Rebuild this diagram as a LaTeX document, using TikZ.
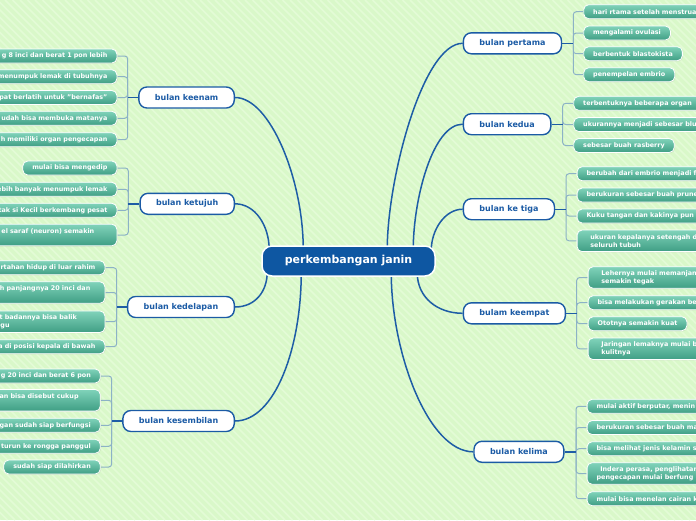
\documentclass[tikz,border=0pt]{standalone}
\usepackage{fontspec}
\setmainfont{DejaVu Sans}
\usetikzlibrary{shadows,calc}
\definecolor{bgc}{HTML}{D9F8C9}
\definecolor{stripec}{HTML}{E3FBD6}
\definecolor{ctrblue}{HTML}{0E57A2}
\definecolor{brblue}{HTML}{1B5BA5}
\definecolor{mainln}{HTML}{1E5DA6}
\definecolor{spinec}{HTML}{8CB2C6}
\definecolor{leaft}{HTML}{80D3BA}
\definecolor{leafb}{HTML}{3F9E84}
\pgfdeclarelayer{bg}
\pgfsetlayers{bg,main}
\newcommand\leaffnt{\fontsize{6.4}{8}\selectfont\bfseries}
\tikzset{
  ctrbox/.style={draw=white, line width=1.5pt, fill=ctrblue, rounded corners=10pt,
    text=white, font=\fontsize{11}{13}\selectfont\bfseries, minimum width=173pt,
    minimum height=30pt, inner xsep=8pt},
  brbox/.style={draw=brblue, line width=1.4pt, fill=white, rounded corners=8pt,
    text=brblue, font=\fontsize{8}{10}\selectfont\bfseries, inner xsep=16pt,
    inner ysep=0pt, minimum height=21pt},
  leaf/.style={draw=white, line width=0.8pt, rounded corners=5pt, top color=leaft,
    bottom color=leafb, text=white, font=\leaffnt, inner xsep=9.5pt, inner ysep=3.6pt,
    minimum height=14pt,
    drop shadow={opacity=0.2, shadow xshift=0.7pt, shadow yshift=-0.7pt}},
  leafR/.style={leaf, anchor=west},
  leafRc/.style={leaf, anchor=west, text width=150pt, align=left},
  leafL/.style={leaf, anchor=east},
  leafLc/.style={leaf, anchor=east, text width=180pt, align=right},
  two/.style={minimum height=21.6pt},
  mainline/.style={draw=mainln, line width=1.5pt},
  brline/.style={draw=mainln, line width=1.4pt},
  spine/.style={draw=spinec, line width=1pt, rounded corners=3pt},
}
\begin{document}
\begin{tikzpicture}[x=1pt,y=-1pt]
\useasboundingbox (0,0) rectangle (696,520);
\begin{pgfonlayer}{bg}
\begin{scope}
\clip (0,0) rectangle (696,520);
\fill[bgc] (0,0) rectangle (696,520);
\foreach \i in {-520,-512.5,...,700} \draw[stripec, line width=1.6pt] (\i,0) -- ++(520,520);
\end{scope}
\end{pgfonlayer}
\clip (0,0) rectangle (696,520);

% centre
\node[ctrbox] (ctr) at (348.5,261) {perkembangan janin};

% branches
\node[brbox, anchor=west] (b1) at (462.7,43.3) {bulan pertama};
\node[brbox, anchor=west] (b2) at (462.7,124.2) {bulan kedua};
\node[brbox, anchor=west] (b3) at (462.7,209.2) {bulan ke tiga};
\node[brbox, anchor=west] (b4) at (462.7,313.3) {bulam keempat};
\node[brbox, anchor=west] (b5) at (473.3,451.8) {bulan kelima};
\node[brbox, anchor=east] (b6) at (235,97.5) {bulan keenam};
\node[brbox, anchor=east] (b7) at (235,203.8) {bulan ketujuh};
\node[brbox, anchor=east] (b8) at (235,307) {bulan kedelapan};
\node[brbox, anchor=east] (b9) at (235,421) {bulan kesembilan};

% leaves: bulan pertama
\node[leafRc] (p1) at (583.3,11.7) {hari rtama setelah menstrua};
\node[leafR] (p2) at (583.3,33) {mengalami ovulasi};
\node[leafR] (p3) at (583.3,53.7) {berbentuk blastokista};
\node[leafR] (p4) at (583.3,74.7) {penempelan embrio};
% bulan kedua
\node[leafR] (k1) at (573.3,103.3) {terbentuknya beberapa organ};
\node[leafRc] (k2) at (573.3,124.5) {ukurannya menjadi sebesar blu};
\node[leafR] (k3) at (573.3,145.5) {sebesar buah rasberry};
% bulan ke tiga
\node[leafRc] (t1) at (576.7,173.7) {berubah dari embrio menjadi f};
\node[leafRc] (t2) at (576.7,195) {berukuran sebesar buah prune};
\node[leafRc] (t3) at (576.7,216) {Kuku tangan dan kakinya pun};
\node[leafRc, two, inner xsep=13.3pt] (t4) at (576.7,240.8) {ukuran kepalanya setengah d\\seluruh tubuh};
% bulam keempat
\node[leafRc, two, inner xsep=13.3pt] (e1) at (587.7,277.5) {Lehernya mulai memanjan\\semakin tegak};
\node[leafRc] (e2) at (587.7,302.7) {bisa melakukan gerakan be};
\node[leafR] (e3) at (587.7,323.7) {Ototnya semakin kuat};
\node[leafRc, two, inner xsep=13.3pt] (e4) at (587.7,348.8) {Jaringan lemaknya mulai b\\kulitnya};
% bulan kelima
\node[leafRc] (l1) at (586.7,406.3) {mulai aktif berputar, menin};
\node[leafRc] (l2) at (586.7,427.5) {berukuran sebesar buah ma};
\node[leafRc] (l3) at (586.7,448.7) {bisa melihat jenis kelamin s};
\node[leafRc, two] (l4) at (586.7,473.5) {\hspace*{3.7pt}Indera perasa, penglihatan\\pengecapan mulai berfung};
\node[leafRc] (l5) at (586.7,498.7) {mulai bisa menelan cairan k};

% bulan keenam
\node[leafLc] (n1) at (117.3,56) {g 8 inci dan berat 1 pon lebih};
\node[leafLc] (n2) at (117.3,76.7) {menumpuk lemak di tubuhnya};
\node[leafLc] (n3) at (117.3,97.5) {pat berlatih untuk "bernafas"};
\node[leafLc] (n4) at (117.3,118.3) {udah bisa membuka matanya};
\node[leafLc] (n5) at (117.3,139.7) {h memiliki organ pengecapan};
% bulan ketujuh
\node[leafL] (j1) at (117.3,168) {mulai bisa mengedip};
\node[leafLc] (j2) at (117.3,189.3) {ebih banyak menumpuk lemak};
\node[leafLc] (j3) at (117.3,210.3) {tak si Kecil berkembang pesat};
\node[leafLc, two, inner xsep=22.6pt] (j4) at (117.3,235) {el saraf (neuron) semakin\\\mbox{}};
% bulan kedelapan
\node[leafLc] (d1) at (105.3,267.7) {rtahan hidup di luar rahim};
\node[leafLc, two, inner xsep=14.6pt] (d2) at (105.3,292.5) {h panjangnya 20 inci dan\\\mbox{}};
\node[leafLc, two, inner xsep=28pt] (d3) at (105.3,321.7) {t badannya bisa balik\\ggu\hbox to 67.3pt{}};
\node[leafLc] (d4) at (105.3,346.7) {a di posisi kepala di bawah};
% bulan kesembilan
\node[leafLc] (s1) at (100.7,376) {g 20 inci dan berat 6 pon};
\node[leafLc, two, inner xsep=21.7pt] (s2) at (100.7,400.3) {an bisa disebut cukup\\\mbox{}};
\node[leafLc] (s3) at (100.7,425.3) {gan sudah siap berfungsi};
\node[leafLc] (s4) at (100.7,446.3) {turun ke rongga panggul};
\node[leafL] (s5) at (100.7,467) {sudah siap dilahirkan};

% attachment points on the centre node
\coordinate (a1) at ($(ctr.north west)+(126,4)$);
\coordinate (a2) at ($(ctr.north west)+(152,4)$);
\coordinate (a3) at ($(ctr.north west)+(170,5)$);
\coordinate (a4) at ($(ctr.south west)+(156,-4)$);
\coordinate (a5) at ($(ctr.south west)+(130,-4)$);
\coordinate (a6) at ($(ctr.north west)+(42,4)$);
\coordinate (a7) at ($(ctr.north west)+(8,5)$);
\coordinate (a8) at ($(ctr.south west)+(6,-5)$);
\coordinate (a9) at ($(ctr.south west)+(40,-4)$);
% spine points
\coordinate (sp1) at (573.3,43.3);
\coordinate (sp2) at (562.7,124.2);
\coordinate (sp3) at (566,209.2);
\coordinate (sp4) at (576.7,313.3);
\coordinate (sp5) at (576,451.8);
\coordinate (sp6) at (127.7,97.5);
\coordinate (sp7) at (128.3,203.8);
\coordinate (sp8) at (116.7,307);
\coordinate (sp9) at (111.7,421);

\begin{pgfonlayer}{bg}
\draw[mainline] (a1) .. controls +(0,-70) and +(-40,0) .. (b1.west);
\draw[mainline] (a2) .. controls +(0,-50) and +(-30,0) .. (b2.west);
\draw[mainline] (a3) .. controls +(0,-20) and +(-18,0) .. (b3.west);
\draw[mainline] (a4) .. controls +(0,25) and +(-25,0) .. (b4.west);
\draw[mainline] (a5) .. controls +(0,80) and +(-45,0) .. (b5.west);
\draw[mainline] (a6) .. controls +(0,-70) and +(35,0) .. (b6.east);
\draw[mainline] (a7) .. controls +(0,-25) and +(20,0) .. (b7.east);
\draw[mainline] (a8) .. controls +(0,20) and +(20,0) .. (b8.east);
\draw[mainline] (a9) .. controls +(0,75) and +(40,0) .. (b9.east);

\foreach \n in {p1,p2,p3,p4} \draw[spine] (sp1) |- (\n.west);
\foreach \n in {k1,k2,k3} \draw[spine] (sp2) |- (\n.west);
\foreach \n in {t1,t2,t3,t4} \draw[spine] (sp3) |- (\n.west);
\foreach \n in {e1,e2,e3,e4} \draw[spine] (sp4) |- (\n.west);
\foreach \n in {l1,l2,l3,l4,l5} \draw[spine] (sp5) |- (\n.west);
\foreach \n in {n1,n2,n3,n4,n5} \draw[spine] (sp6) |- (\n.east);
\foreach \n in {j1,j2,j3,j4} \draw[spine] (sp7) |- (\n.east);
\foreach \n in {d1,d2,d3,d4} \draw[spine] (sp8) |- (\n.east);
\foreach \n in {s1,s2,s3,s4,s5} \draw[spine] (sp9) |- (\n.east);

\draw[brline] (b1.east) -- (sp1);
\draw[brline] (b2.east) -- (sp2);
\draw[brline] (b3.east) -- (sp3);
\draw[brline] (b4.east) -- (sp4);
\draw[brline] (b5.east) -- (sp5);
\draw[brline] (b6.west) -- (sp6);
\draw[brline] (b7.west) -- (sp7);
\draw[brline] (b8.west) -- (sp8);
\draw[brline] (b9.west) -- (sp9);
\end{pgfonlayer}
\end{tikzpicture}
\end{document}
